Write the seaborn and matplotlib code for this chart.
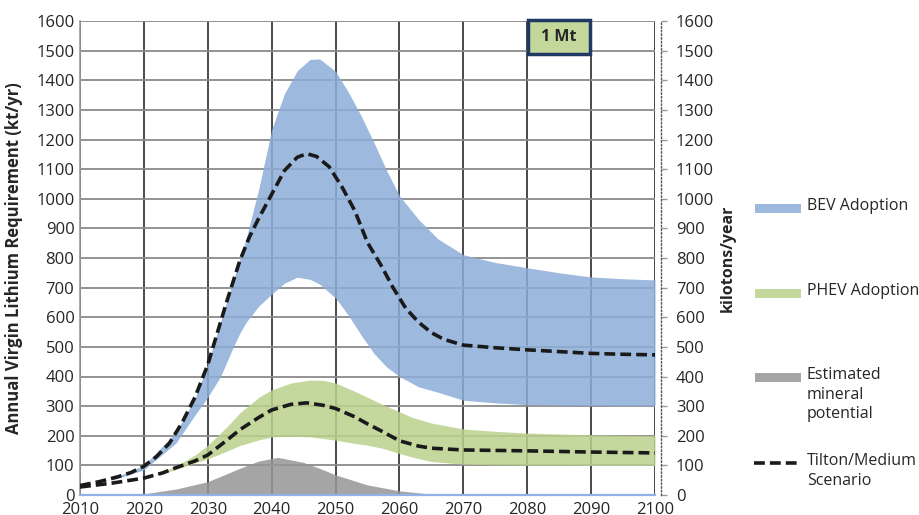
import matplotlib
matplotlib.use('Agg')
import matplotlib.pyplot as plt
import seaborn as sns
from matplotlib.patches import Rectangle
from matplotlib.lines import Line2D

# values (kt/yr)
bev_mid_years = [2010, 2013, 2016, 2018, 2020, 2022, 2024, 2026, 2028, 2030, 2031.5, 2033, 2035, 2036.5,
                 2038, 2040, 2042, 2044, 2045.5, 2047, 2049, 2051, 2053, 2055, 2057, 2059, 2061, 2063,
                 2065, 2067, 2070, 2075, 2080, 2085, 2090, 2095, 2100]
bev_mid = [32, 45, 62, 76, 97, 130, 175, 245, 330, 440, 548, 655, 790, 870,
           935, 1015, 1095, 1140, 1152, 1143, 1108, 1040, 960, 852, 780, 700, 630, 583,
           548, 525, 506, 497, 490, 484, 478, 475, 473]

phev_mid_years = [2010, 2015, 2020, 2023, 2025, 2028, 2030, 2033, 2035, 2038, 2040, 2043, 2045.5,
                  2048, 2050, 2053, 2055, 2057, 2060, 2063, 2065, 2070, 2080, 2090, 2100]
phev_mid = [27, 40, 57, 75, 92, 115, 135, 185, 220, 262, 287, 306, 311,
            303, 292, 264, 240, 218, 183, 165, 158, 152, 149, 145, 142]

bev_years = [2015, 2020, 2025, 2028, 2030, 2032, 2034, 2035, 2036, 2038, 2040, 2042, 2044, 2046, 2047.5,
             2050, 2052, 2054, 2056, 2058, 2060, 2063, 2066, 2070, 2075, 2080, 2085, 2090, 2095, 2100]
bev_high = [55, 100, 212, 325, 442, 585, 725, 795, 865, 1035, 1233, 1355, 1432, 1470, 1472,
            1430, 1360, 1280, 1190, 1095, 1010, 930, 865, 811, 785, 767, 750, 736, 730, 726]
bev_low = [50, 85, 175, 270, 330, 400, 500, 545, 583, 638, 678, 715, 735, 728, 712,
           665, 607, 540, 478, 432, 400, 365, 347, 320, 311, 305, 303, 302, 301, 301]

phev_years = [2022, 2025, 2028, 2030, 2033, 2035, 2038, 2040, 2043, 2046, 2048, 2050, 2052.5,
              2055, 2057.5, 2060, 2062, 2065, 2070, 2075, 2080, 2090, 2100]
phev_high = [72, 97, 135, 168, 230, 277, 330, 355, 378, 388, 387, 378, 355,
             330, 304, 281, 262, 243, 223, 215, 209, 203, 200]
phev_low = [68, 86, 108, 122, 148, 167, 186, 196, 198, 196, 191, 185, 176,
            168, 157, 140, 128, 113, 104, 102, 101, 100, 100]

mineral_years = [2015, 2020, 2025, 2030, 2033, 2035, 2038, 2041, 2045, 2047.5, 2050, 2055, 2060, 2065, 2070, 2100]
mineral = [0, 4, 20, 45, 72, 90, 115, 127, 110, 90, 68, 34, 14, 3, 0, 0]

x_ticks = list(range(2010, 2101, 10))
y_ticks = list(range(0, 1601, 100))

blue = '#8cadd8'
green = '#bad28d'
grey = '#969696'
txt = '#262626'

sns.set_style('white')
plt.rcParams['font.family'] = ['Open Sans', 'DejaVu Sans']

fig = plt.figure(figsize=(9.19, 5.15), dpi=100)
ax = fig.add_axes([80 / 919, 20 / 515, 575 / 919, 474 / 515])

ax.fill_between(bev_years, bev_low, bev_high, color=blue, alpha=0.85, lw=0, zorder=2)
ax.fill_between(phev_years, phev_low, phev_high, color=green, alpha=0.85, lw=0, zorder=2)
ax.fill_between(mineral_years, 0, mineral, color=grey, alpha=0.85, lw=0, zorder=2)

sns.lineplot(x=bev_mid_years, y=bev_mid, ax=ax, color='#1a1a1a', lw=2.6, zorder=4,
             linestyle=(0, (3, 1.4)), errorbar=None)
sns.lineplot(x=phev_mid_years, y=phev_mid, ax=ax, color='#1a1a1a', lw=2.6, zorder=4,
             linestyle=(0, (3, 1.4)), errorbar=None)

ax.set_xlim(2010, 2100)
ax.set_ylim(0, 1600)
ax.set_xticks(x_ticks)
ax.set_yticks(y_ticks)
ax.set_axisbelow(True)
ax.grid(axis='x', color='#3a3a3a', lw=1.3)
ax.grid(axis='y', color='#8a8a8a', lw=1.3)
ax.tick_params(axis='both', length=0, labelsize=12, labelcolor=txt)
ax.tick_params(axis='x', pad=5)
ax.tick_params(axis='y', pad=4)
for s in ['top', 'right']:
    ax.spines[s].set_visible(False)
ax.spines['left'].set_color('#9a9a9a')
ax.spines['left'].set_linewidth(1.2)
ax.spines['bottom'].set_color('#8eb4e3')
ax.spines['bottom'].set_linewidth(1.6)
ax.set_ylabel('Annual Virgin Lithium Requirement (kt/yr)', fontsize=12, fontweight='bold', color=txt)
ax.yaxis.set_label_coords(-0.099, 0.5)

ax2 = ax.twinx()
ax2.set_ylim(0, 1600)
ax2.set_yticks(y_ticks)
ax2.tick_params(axis='y', length=4, width=1, color='#9a9a9a', pad=7, labelsize=12, labelcolor=txt)
for s in ['top', 'left', 'bottom']:
    ax2.spines[s].set_visible(False)
ax2.spines['right'].set_position(('outward', 4))
ax2.spines['right'].set_linestyle(':')
ax2.spines['right'].set_color('#555555')
ax2.spines['right'].set_linewidth(1.0)
ax2.set_ylabel('kilotons/year', fontsize=11.5, fontweight='bold', color=txt)
ax2.yaxis.set_label_coords(1.112, 0.5)

# "1 Mt" box
ax.add_patch(Rectangle((2080.1, 1490), 9.7, 112, facecolor='#c4d79b', edgecolor='#1f3864',
                       lw=2.5, zorder=6, clip_on=False))
ax.text(2084.95, 1546, '1 Mt', ha='center', va='center', fontsize=11.5, fontweight='bold',
        color=txt, zorder=7)

# legend drawn by hand so the keys sit beside the first label line
def fx(px):
    return px / 919

def fy(py):
    return 1 - py / 515

entries = [
    ('patch', blue, 208, 'BEV Adoption'),
    ('patch', green, 293, 'PHEV Adoption'),
    ('patch', grey, 377, 'Estimated\nmineral\npotential'),
    ('line', '#1a1a1a', 463, 'Tilton/Medium\nScenario'),
]
for kind, col, py, label in entries:
    if kind == 'patch':
        fig.patches.append(Rectangle((fx(755), fy(py + 4.5)), fx(801) - fx(755), 9 / 515,
                                     transform=fig.transFigure, facecolor=col, alpha=0.85, lw=0))
    else:
        fig.lines.append(Line2D([fx(754), fx(798)], [fy(py), fy(py)], transform=fig.transFigure,
                                color=col, lw=2.6, linestyle=(0, (3, 1.4))))
    fig.text(fx(807), fy(py - 10), label, ha='left', va='top', fontsize=11.5, color=txt,
             linespacing=1.3)

fig.savefig('out.png', dpi=100)
